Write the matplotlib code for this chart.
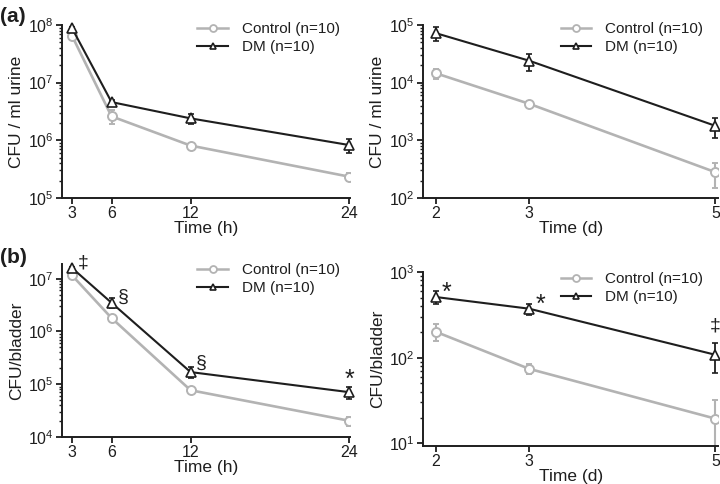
import matplotlib
matplotlib.use("Agg")
import matplotlib.pyplot as plt
from matplotlib.lines import Line2D
from matplotlib.ticker import LogLocator, LogFormatterSciNotation, NullFormatter

plt.rcParams['font.family'] = ['Liberation Sans', 'DejaVu Sans']
plt.rcParams['mathtext.fontset'] = 'custom'
plt.rcParams['mathtext.rm'] = 'Liberation Sans'
plt.rcParams['mathtext.it'] = 'Liberation Sans'
plt.rcParams['mathtext.bf'] = 'Liberation Sans'

# ---- data ----
hours = [3, 6, 12, 24]
days = [2, 3, 5]

urine_h_ctrl = [6.5e7, 2.6e6, 8.1e5, 2.35e5]
urine_h_ctrl_err = [4e6, 0.7e6, 0.5e5, 0.4e5]
urine_h_dm = [8.8e7, 4.6e6, 2.4e6, 8.3e5]
urine_h_dm_err = [5e6, 0.3e6, 0.5e6, 0.22e6]

urine_d_ctrl = [1.45e4, 4.3e3, 2.8e2]
urine_d_ctrl_err = [0.3e4, 0.5e3, 1.3e2]
urine_d_dm = [7.2e4, 2.4e4, 1.78e3]
urine_d_dm_err = [2e4, 0.8e4, 0.7e3]

bladder_h_ctrl = [1.16e7, 1.8e6, 7.7e4, 2.04e4]
bladder_h_ctrl_err = [0.6e6, 0.1e6, 0.4e4, 0.4e4]
bladder_h_dm = [1.6e7, 3.5e6, 1.7e5, 7.1e4]
bladder_h_dm_err = [1.0e6, 0.75e6, 0.4e5, 1.8e4]

bladder_d_ctrl = [200, 74, 19.4]
bladder_d_ctrl_err = [45, 10, 13]
bladder_d_dm = [510, 373, 108]
bladder_d_dm_err = [90, 55, 42]

# significance marks: (x, y, symbol, dx px, dy px)
marks_bh = [(3, 1.6e7, '‡', 11, 5), (6, 3.5e6, '§', 12, 5),
            (12, 1.7e5, '§', 11, 9), (24, 7.1e4, '*', 1, 12)]
marks_bd = [(2, 510, '*', 10, 4), (3, 373, '*', 11, 4), (5, 108, '‡', 0, 29)]

grey = '#b3b3b3'
ink = '#1e1e1e'
labels = ['Control (n=10)', 'DM (n=10)']


def panel(ax, x, c, ce, d, de, xlim, ylim, xticks, xlabel, ylabel,
          leg_anchor, marks=()):
    ax.errorbar(x, c, yerr=ce, color=grey, marker='o', ms=6.5, mfc='white',
                mec=grey, mew=1.4, lw=1.9, capsize=2.5, elinewidth=1.5,
                capthick=1.3, zorder=2)
    ax.errorbar(x, d, yerr=de, color=ink, marker='^', ms=6.5, mfc='white',
                mec=ink, mew=1.2, lw=1.5, capsize=2.5, elinewidth=1.3,
                capthick=1.2, clip_on=False, zorder=3)
    ax.set_yscale('log')
    ax.set_xlim(xlim)
    ax.set_ylim(ylim)
    ax.set_xticks(xticks)
    ax.set_xticklabels([str(t) for t in xticks])
    ax.yaxis.set_major_locator(LogLocator(base=10))
    ax.yaxis.set_major_formatter(LogFormatterSciNotation())
    ax.yaxis.set_minor_locator(LogLocator(base=10, subs=range(2, 10)))
    ax.yaxis.set_minor_formatter(NullFormatter())
    ax.spines['top'].set_visible(False)
    ax.spines['right'].set_visible(False)
    ax.spines['left'].set_linewidth(1.4)
    ax.spines['bottom'].set_linewidth(1.4)
    ax.spines['left'].set_color(ink)
    ax.spines['bottom'].set_color(ink)
    ax.tick_params(which='major', direction='out', length=4, width=1.3,
                   labelsize=11.5, colors=ink, pad=2)
    ax.tick_params(which='minor', direction='out', length=2.5, width=1.0,
                   colors=ink)
    ax.set_xlabel(xlabel, fontsize=12.5, labelpad=0, color=ink)
    ax.set_ylabel(ylabel, fontsize=12.5, labelpad=3, color=ink)
    for mx, my, s, dx, dy in marks:
        ax.annotate(s, (mx, my), xytext=(dx * 0.72, dy * 0.72),
                    textcoords='offset points', ha='center', va='center',
                    fontsize=18 if s == '*' else 14, color=ink)
    handles = [Line2D([], [], color=grey, marker='o', ms=5, mfc='white',
                      mec=grey, mew=1.3, lw=1.8),
               Line2D([], [], color=ink, marker='^', ms=5, mfc='white',
                      mec=ink, mew=1.2, lw=1.5)]
    leg = ax.legend(handles, labels, loc='upper right', frameon=False,
                    fontsize=11, handlelength=2.0, handletextpad=0.9,
                    labelspacing=0.25, borderaxespad=0,
                    bbox_to_anchor=leg_anchor)
    for t in leg.get_texts():
        t.set_color(ink)


fig = plt.figure(figsize=(7.2, 4.84), dpi=100)
ax1 = fig.add_axes([0.0861, 0.591, 0.40, 0.3574])
ax2 = fig.add_axes([0.5875, 0.591, 0.41, 0.3574])
ax3 = fig.add_axes([0.0861, 0.0971, 0.40, 0.3574])
ax4 = fig.add_axes([0.5875, 0.0785, 0.41, 0.3595])

panel(ax1, hours, urine_h_ctrl, urine_h_ctrl_err, urine_h_dm, urine_h_dm_err,
      (2.24, 24.1), (1e5, 1e8), hours, 'Time (h)', 'CFU / ml urine',
      (0.985, 1.05))
panel(ax2, days, urine_d_ctrl, urine_d_ctrl_err, urine_d_dm, urine_d_dm_err,
      (1.86, 5.03), (1e2, 1e5), days, 'Time (d)', 'CFU / ml urine',
      (0.97, 1.05))
panel(ax3, hours, bladder_h_ctrl, bladder_h_ctrl_err, bladder_h_dm, bladder_h_dm_err,
      (2.24, 24.1), (1e4, 1.9e7), hours, 'Time (h)', 'CFU/bladder',
      (0.985, 1.04), marks_bh)
panel(ax4, days, bladder_d_ctrl, bladder_d_ctrl_err, bladder_d_dm, bladder_d_dm_err,
      (1.86, 5.03), (9.3, 1e3), days, 'Time (d)', 'CFU/bladder',
      (0.97, 1.035), marks_bd)

fig.text(0.0, 0.985, '(a)', fontsize=15, fontweight='bold', va='top', ha='left',
         color=ink)
fig.text(0.0, 0.488, '(b)', fontsize=15, fontweight='bold', va='top', ha='left',
         color=ink)

fig.savefig('out.png', dpi=100)
plt.close(fig)
